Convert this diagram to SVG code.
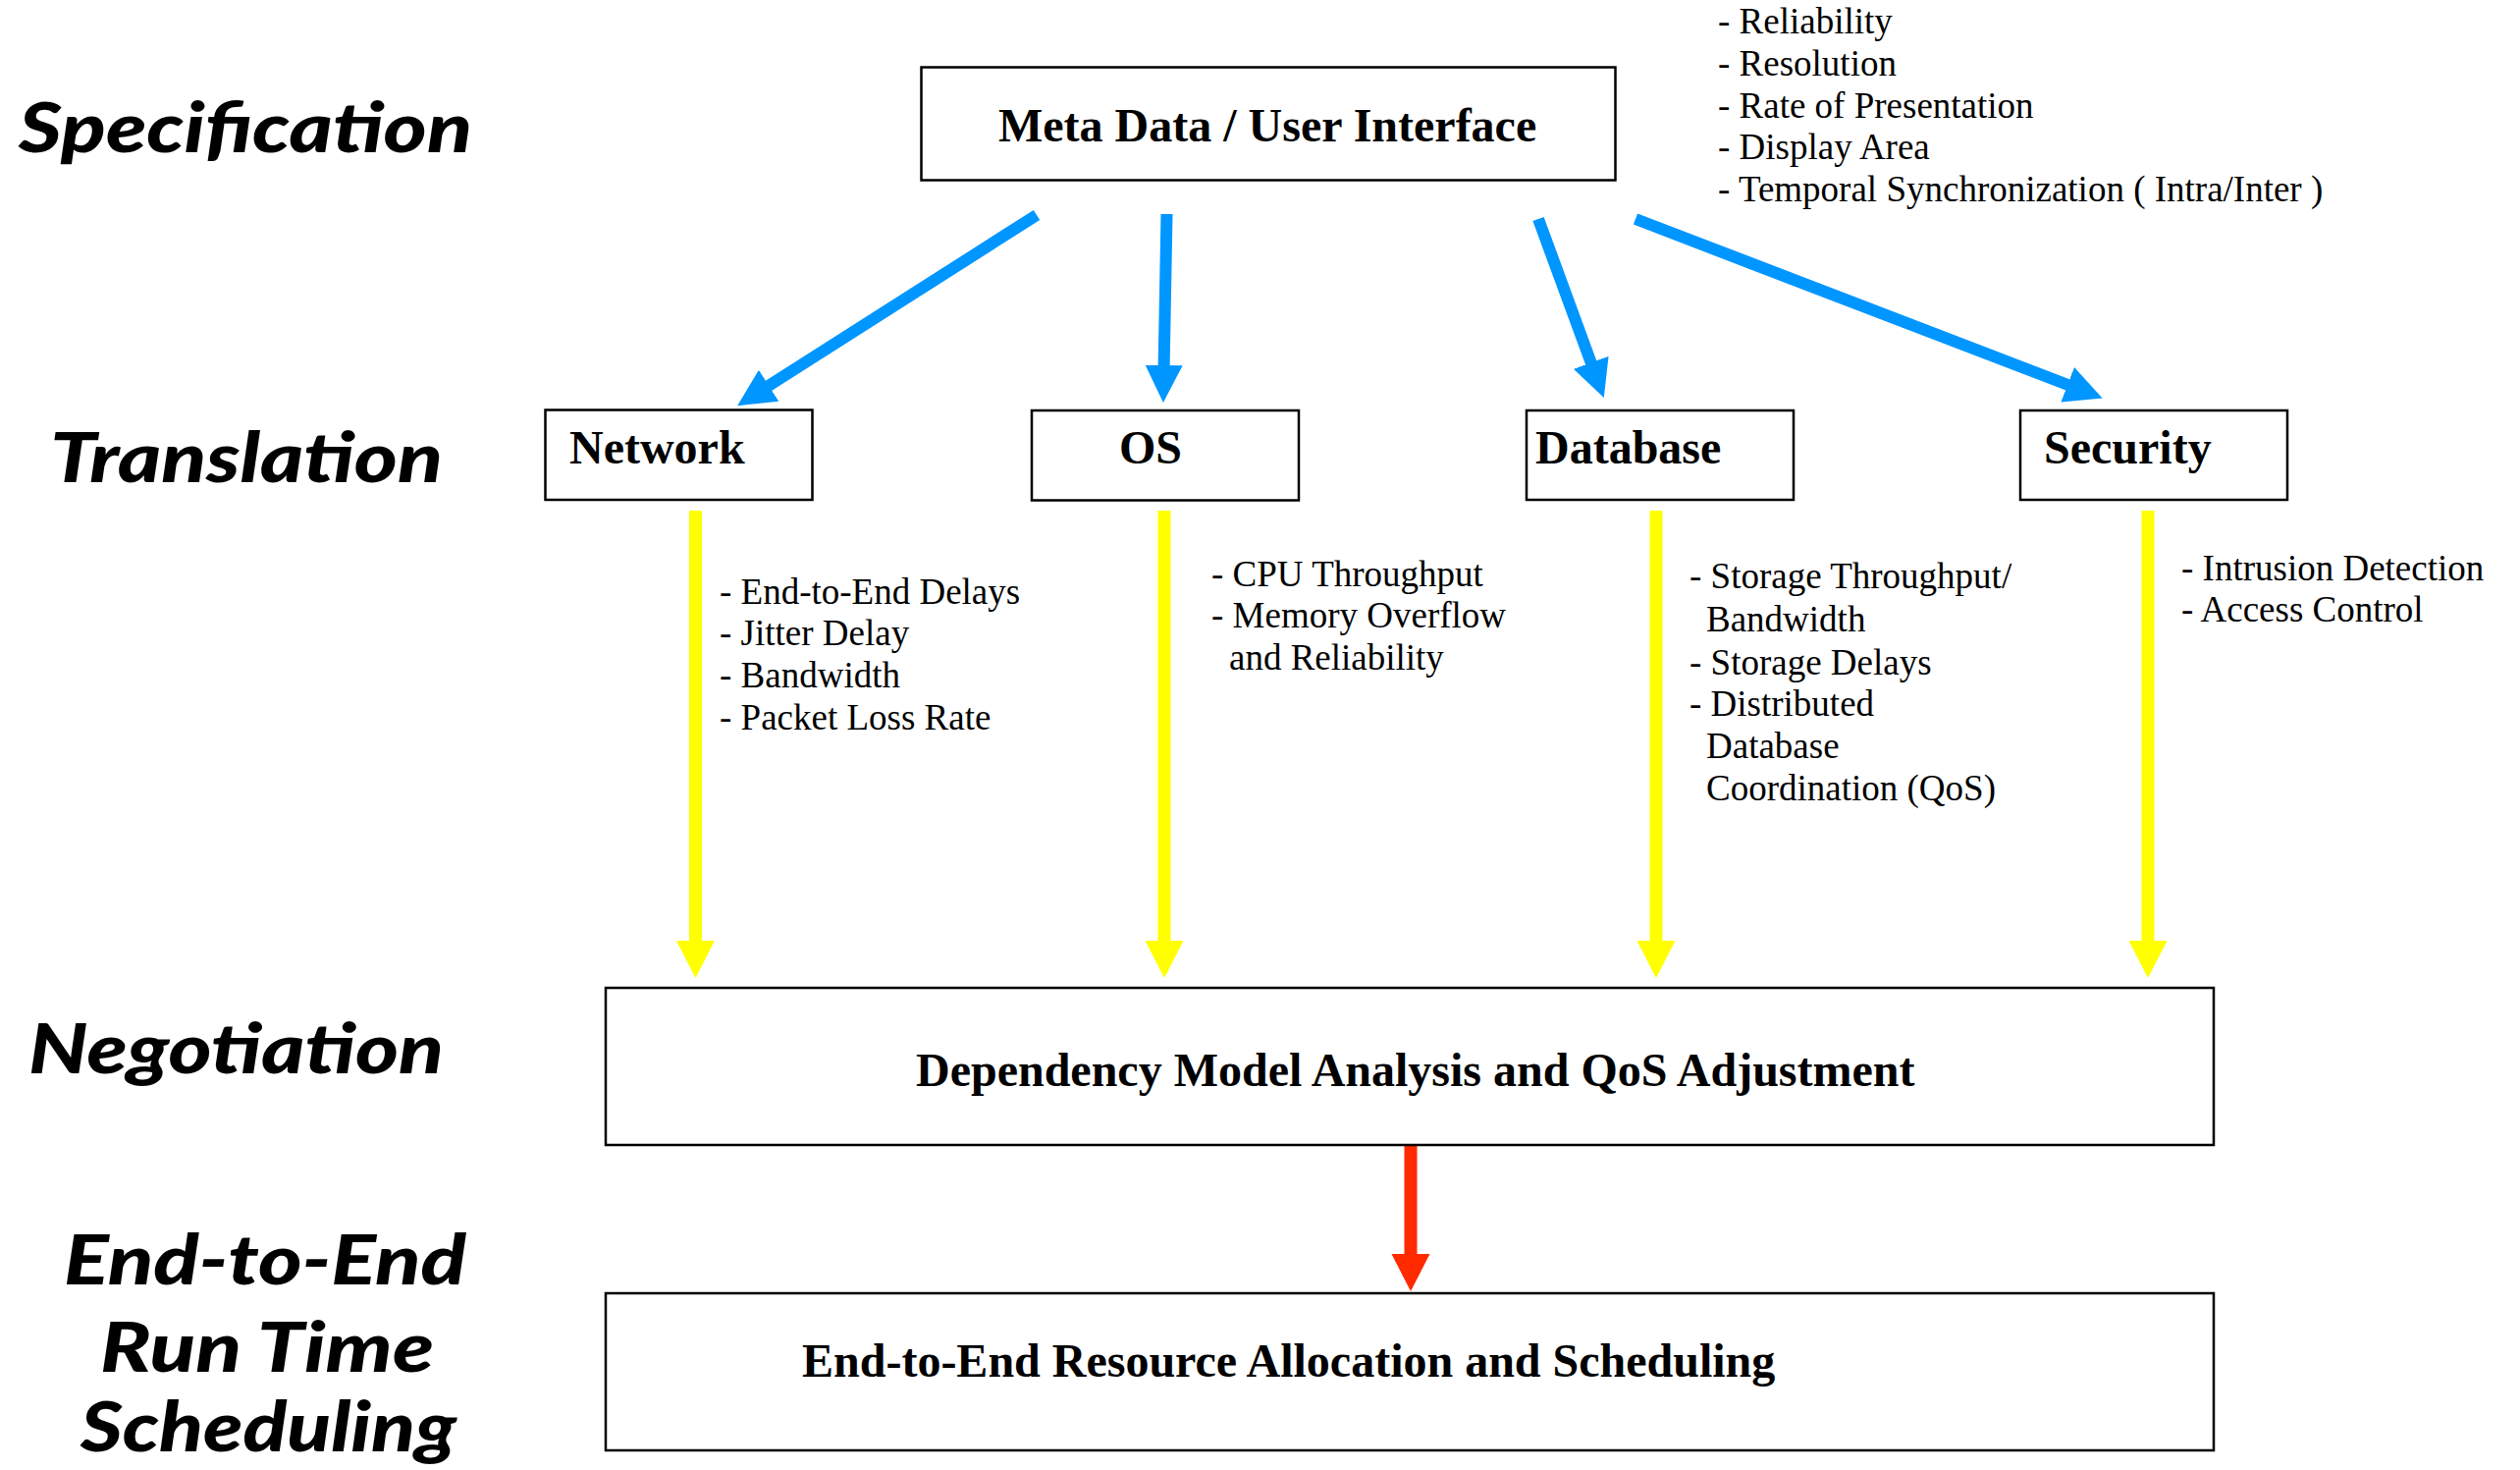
<svg xmlns="http://www.w3.org/2000/svg" width="2567" height="1497" viewBox="0 0 2567 1497">
<style>
.box{fill:#fff;stroke:#000;stroke-width:2.5}
.bt{font-family:"Liberation Serif",serif;font-weight:bold;font-size:48px;fill:#000}
.lt{font-family:"Liberation Serif",serif;font-size:37px;fill:#000}
.st{font-family:Lato,"Open Sans",sans-serif;font-weight:900;font-style:italic;font-size:70px;fill:#000}
.blue{stroke:#0096FF;stroke-width:12;fill:none}
.yel{stroke:#FFFF00;stroke-width:13;fill:none}
.red{stroke:#FF2A00;stroke-width:13;fill:none}
</style>
<defs>
<marker id="mb" markerUnits="userSpaceOnUse" markerWidth="40" markerHeight="40" refX="2" refY="19" orient="auto"><path d="M0,0 L38,19 L0,38 Z" fill="#0096FF"/></marker>
<marker id="my" markerUnits="userSpaceOnUse" markerWidth="40" markerHeight="40" refX="2" refY="19.5" orient="auto"><path d="M0,0 L38,19.5 L0,39 Z" fill="#FFFF00"/></marker>
<marker id="mr" markerUnits="userSpaceOnUse" markerWidth="40" markerHeight="40" refX="2" refY="19.5" orient="auto"><path d="M0,0 L38,19.5 L0,39 Z" fill="#FF2A00"/></marker>
</defs>
<rect width="2567" height="1497" fill="#fff"/>
<g id="stages">
<text class="st" x="19" y="155" textLength="462" lengthAdjust="spacingAndGlyphs">Specification</text>
<text class="st" x="51" y="491" textLength="400" lengthAdjust="spacingAndGlyphs">Translation</text>
<text class="st" x="29" y="1093" textLength="423" lengthAdjust="spacingAndGlyphs">Negotiation</text>
<text class="st" x="65" y="1308" textLength="410" lengthAdjust="spacingAndGlyphs">End-to-End</text>
<text class="st" x="102" y="1397" textLength="340" lengthAdjust="spacingAndGlyphs">Run Time</text>
<text class="st" x="82" y="1478" textLength="383" lengthAdjust="spacingAndGlyphs">Scheduling</text>
</g>
<g id="connectors">
<line class="blue" x1="1056" y1="219" x2="781.5" y2="393.8" marker-end="url(#mb)"/>
<line class="blue" x1="1188.5" y1="218" x2="1185.6" y2="374" marker-end="url(#mb)"/>
<line class="blue" x1="1567" y1="223" x2="1621.4" y2="371.2" marker-end="url(#mb)"/>
<line class="blue" x1="1666" y1="223" x2="2108" y2="392.5" marker-end="url(#mb)"/>
<line class="yel" x1="708.5" y1="520" x2="708.5" y2="960" marker-end="url(#my)"/>
<line class="yel" x1="1186" y1="520" x2="1186" y2="960" marker-end="url(#my)"/>
<line class="yel" x1="1687" y1="520" x2="1687" y2="960" marker-end="url(#my)"/>
<line class="yel" x1="2188" y1="520" x2="2188" y2="960" marker-end="url(#my)"/>
<line class="red" x1="1437" y1="1166" x2="1437" y2="1279" marker-end="url(#mr)"/>
</g>
<g id="meta">
<rect class="box" x="938.5" y="68.5" width="707" height="115"/>
<text class="bt" x="1017" y="144">Meta Data / User Interface</text>
</g>
<g id="meta-notes">
<text class="lt" x="1750" y="34">- Reliability</text>
<text class="lt" x="1750" y="76.5">- Resolution</text>
<text class="lt" x="1750" y="119.5">- Rate of Presentation</text>
<text class="lt" x="1750" y="161.5">- Display Area</text>
<text class="lt" x="1750" y="204.5">- Temporal Synchronization ( Intra/Inter )</text>
</g>
<g id="network">
<rect class="box" x="555.5" y="417.5" width="272" height="91.5"/>
<text class="bt" x="580" y="472">Network</text>
</g>
<g id="os">
<rect class="box" x="1051" y="418" width="272" height="91.5"/>
<text class="bt" x="1140" y="472">OS</text>
</g>
<g id="database">
<rect class="box" x="1555" y="418" width="272" height="91"/>
<text class="bt" x="1564" y="472">Database</text>
</g>
<g id="security">
<rect class="box" x="2058" y="418" width="272" height="91"/>
<text class="bt" x="2082" y="472">Security</text>
</g>
<g id="network-notes">
<text class="lt" x="733" y="615">- End-to-End Delays</text>
<text class="lt" x="733" y="657">- Jitter Delay</text>
<text class="lt" x="733" y="700">- Bandwidth</text>
<text class="lt" x="733" y="743">- Packet Loss Rate</text>
</g>
<g id="os-notes">
<text class="lt" x="1234" y="597">- CPU Throughput</text>
<text class="lt" x="1234" y="639">- Memory Overflow</text>
<text class="lt" x="1252" y="682">and Reliability</text>
</g>
<g id="database-notes">
<text class="lt" x="1721" y="599">- Storage Throughput/</text>
<text class="lt" x="1738" y="643">Bandwidth</text>
<text class="lt" x="1721" y="686.5">- Storage Delays</text>
<text class="lt" x="1721" y="729">- Distributed</text>
<text class="lt" x="1738" y="771.5">Database</text>
<text class="lt" x="1738" y="815">Coordination (QoS)</text>
</g>
<g id="security-notes">
<text class="lt" x="2222" y="591">- Intrusion Detection</text>
<text class="lt" x="2222" y="633">- Access Control</text>
</g>
<g id="negotiation">
<rect class="box" x="617" y="1006" width="1638" height="160"/>
<text class="bt" x="933" y="1106">Dependency Model Analysis and QoS Adjustment</text>
</g>
<g id="scheduling">
<rect class="box" x="617" y="1317" width="1638" height="160"/>
<text class="bt" x="817" y="1402">End-to-End Resource Allocation and Scheduling</text>
</g>
</svg>
